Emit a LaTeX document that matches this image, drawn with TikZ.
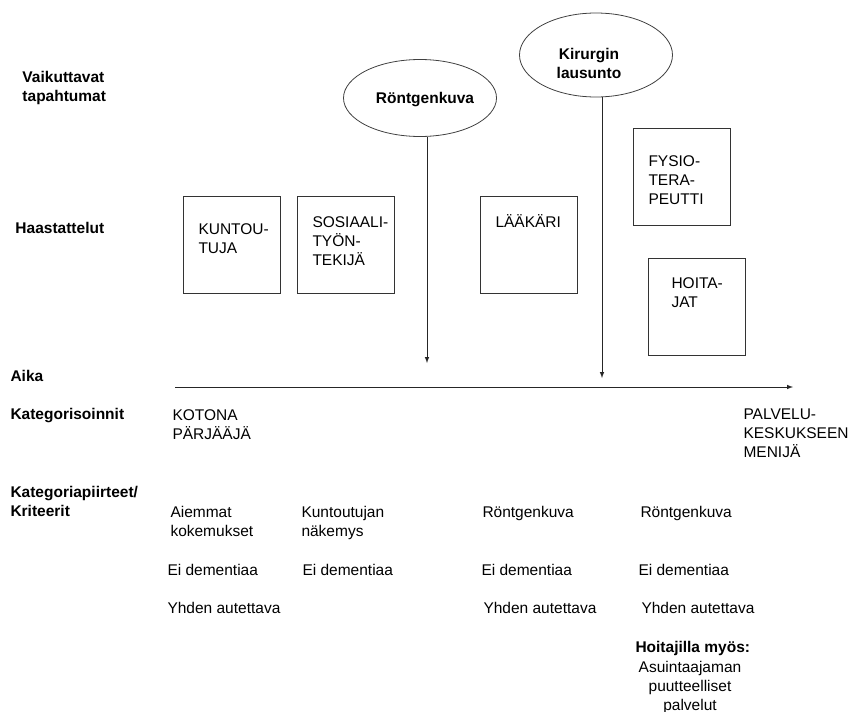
\documentclass[tikz,border=0pt]{standalone}
\usepackage{fontspec}
\setmainfont{Liberation Sans}
\usetikzlibrary{arrows,shapes.geometric}

\begin{document}
\begin{tikzpicture}[x=1pt,y=-1pt,>=latex,line width=1pt,
  every node/.style={inner sep=0pt,font=\fontsize{15.5}{19}\selectfont,align=left},
  hdr/.style={anchor=base west,font=\fontsize{15.5}{19}\selectfont\bfseries},
  txt/.style={anchor=base west},
  event/.style={ellipse,draw=black!75,line width=0.8pt,minimum width=153pt},
  evtxt/.style={font=\fontsize{15.5}{19}\selectfont\bfseries,align=center},
  person/.style={rectangle,draw=black!80,anchor=north west,minimum width=97pt,minimum height=97pt}]
\useasboundingbox (0,0) rectangle (855,712);

\node[hdr] (vt) at (22,101) {Vaikuttavat\\tapahtumat};
\node[hdr] (ha) at (15,233) {Haastattelut};
\node[hdr] (ai) at (10,381) {Aika};
\node[hdr] (ka) at (10,419) {Kategorisoinnit};
\node[hdr] (kr) at (10,516) {Kategoriapiirteet/\\Kriteerit};

\node[event,minimum height=77pt] (ro) at (420,98) {};
\node[evtxt] (rot) at (425,100) {Röntgenkuva};
\node[event,minimum height=84pt] (ki) at (596,55) {};
\node[evtxt] (kit) at (589,63) {Kirurgin\\lausunto};

\node[person] (kt) at (183,196) {};
\node[txt] (ktt) at (198,253) {KUNTOU-\\TUJA};
\node[person] (st) at (297,196) {};
\node[txt] (stt) at (312,265) {SOSIAALI-\\TYÖN-\\TEKIJÄ};
\node[person] (lk) at (480,196) {};
\node[txt] (lkt) at (495,227) {LÄÄKÄRI};
\node[person] (ft) at (633,128) {};
\node[txt] (ftt) at (648,204) {FYSIO-\\TERA-\\PEUTTI};
\node[person] (ht) at (648,258) {};
\node[txt] (htt) at (671,307) {HOITA-\\JAT};

\coordinate (t1) at (427,363);
\coordinate (t2) at (602,378);
\coordinate (t0) at (175,387);
\coordinate (tn) at (793,387);
\draw[->,draw=black!85] (ro.south -| t1) -- (t1);
\draw[->,draw=black!85] (ki.south -| t2) -- (t2);
\draw[->,draw=black!85] (t0) -- (tn);

\node[txt] (kp) at (172,439) {KOTONA\\PÄRJÄÄJÄ};
\node[txt] (pm) at (743,457) {PALVELU-\\KESKUKSEEN\\MENIJÄ};

\node[txt] (a1) at (170,536) {Aiemmat\\kokemukset};
\node[txt] (a2) at (167,575) {Ei dementiaa};
\node[txt] (a3) at (167,613) {Yhden autettava};
\node[txt] (b1) at (301,536) {Kuntoutujan\\näkemys};
\node[txt] (b2) at (302,575) {Ei dementiaa};
\node[txt] (c1) at (482,517) {Röntgenkuva};
\node[txt] (c2) at (481,575) {Ei dementiaa};
\node[txt] (c3) at (483,613) {Yhden autettava};
\node[txt] (d1) at (640,517) {Röntgenkuva};
\node[txt] (d2) at (638,575) {Ei dementiaa};
\node[txt] (d3) at (641,613) {Yhden autettava};
\node[hdr] (d4) at (635,652) {Hoitajilla myös:};
\node[anchor=base,align=center] (d5) at (690,710) {Asuintaajaman\\puutteelliset\\palvelut};
\end{tikzpicture}
\end{document}
